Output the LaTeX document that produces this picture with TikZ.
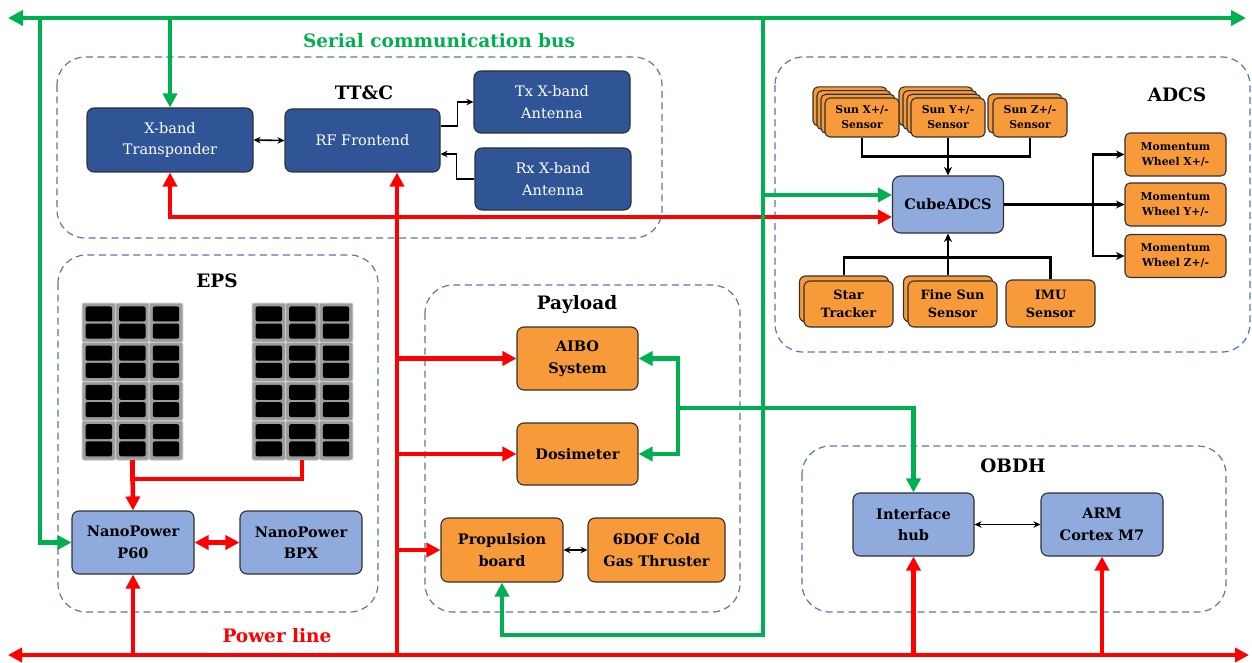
\documentclass[tikz,border=0pt]{standalone}
\usepackage{fontspec}
\setmainfont{DejaVu Serif}
\usetikzlibrary{arrows.meta,calc}
\definecolor{gbus}{HTML}{00B050}
\definecolor{rbus}{HTML}{FF0000}
\definecolor{dashc}{HTML}{5677AE}
\definecolor{dblue}{HTML}{2F5597}
\definecolor{lblue}{HTML}{8FAADC}
\definecolor{orng}{HTML}{F79B3A}
\definecolor{edgec}{HTML}{303030}
\definecolor{pgray}{HTML}{9C9C9C}
\definecolor{pedge}{HTML}{CACACA}
\tikzset{
 sz/.style 2 args={minimum width=#1, minimum height=#2},
 grp/.style={draw=dashc, dash pattern=on 7pt off 4.5pt, line width=1.2pt, rounded corners=28pt},
 bx/.style={draw=edgec, line width=1.1pt, rounded corners=7pt, align=center, inner sep=0pt},
 tbox/.style={bx, fill=dblue, text=white, font=\fontsize{14.5}{21.5}\selectfont},
 lbox/.style={bx, fill=lblue, font=\fontsize{14.5}{21.5}\selectfont\bfseries},
 obox/.style={bx, fill=orng, font=\fontsize{14.5}{21.5}\selectfont\bfseries},
 sbox/.style={bx, fill=orng, rounded corners=5pt, font=\fontsize{10.8}{15}\selectfont\bfseries},
 mbox/.style={bx, fill=orng, rounded corners=6pt, font=\fontsize{12.8}{18}\selectfont\bfseries},
 ttl/.style={font=\fontsize{18.5}{22}\selectfont\bfseries, inner sep=0pt},
 gline/.style={draw=gbus, line width=4.5pt},
 garrow/.style={gline, -{Triangle[length=14pt,width=14pt]}},
 rline/.style={draw=rbus, line width=4.5pt},
 rarrow/.style={rline, -{Triangle[length=14pt,width=14pt]}},
 rarrow2/.style={rline, {Triangle[length=14pt,width=14pt]}-{Triangle[length=14pt,width=14pt]}},
 bline/.style={draw=black, line width=1.6pt},
 barrow/.style={bline, -{Stealth[length=7pt,width=6.5pt]}},
 barrow2/.style={bline, {Stealth[length=7pt,width=6.5pt]}-{Stealth[length=7pt,width=6.5pt]}},
 aline/.style={draw=black, line width=2.2pt},
 aarrow/.style={aline, -{Stealth[length=8.5pt,width=8pt]}},
}
\begin{document}
\begin{tikzpicture}[x=1pt,y=-1pt]
\useasboundingbox (0,0) rectangle (1252,663);

% group frames
\draw[grp] (57,57) rectangle (662,238);
\draw[grp] (775,57) rectangle (1250,352);
\draw[grp] (58,255) rectangle (378,612);
\draw[grp] (425,285) rectangle (740,612);
\draw[grp] (802,446) rectangle (1226,612);

% titles
\node[ttl] (ttcT) at (364,93) {TT\&C};
\node[ttl] (adcsT) at (1177,95) {ADCS};
\node[ttl] (epsT) at (217,281) {EPS};
\node[ttl] (plT) at (577,305) {Payload};
\node[ttl] (obdhT) at (1013,466) {OBDH};
\node[ttl, text=gbus] (serT) at (439,41) {Serial communication bus};
\node[ttl, text=rbus] (pwrT) at (277,636) {Power line};

% solar panels
\foreach \px in {82,252} {
 \foreach \c in {0,1,2} {
  \foreach \r in {0,1,2,3} {
   \filldraw[fill=pgray, draw=pedge, line width=1pt, rounded corners=2pt] (\px+\c*33.6, 303+\r*39.25) rectangle ++(33.6,39.25);
   \fill[black, rounded corners=2pt] (\px+\c*33.6+3.6, 303+\r*39.25+3.4) rectangle ++(26.4,15);
   \fill[black, rounded corners=2pt] (\px+\c*33.6+3.6, 303+\r*39.25+20.6) rectangle ++(26.4,15);
  }
 }
}
\coordinate (lp) at (132.5,460);
\coordinate (rp) at (302,460);

% TT&C nodes
\node[tbox, sz={166pt}{64pt}] (xbt) at (170,140) {X-band\\Transponder};
\node[tbox, sz={155pt}{63pt}] (rff) at (362.5,140.5) {RF Frontend};
\node[tbox, sz={156pt}{62pt}] (tx) at (552,102) {Tx X-band\\Antenna};
\node[tbox, sz={156pt}{62pt}] (rx) at (553,179) {Rx X-band\\Antenna};

% EPS nodes
\node[lbox, sz={122pt}{63pt}] (p60) at (133,542.5) {NanoPower\\P60};
\node[lbox, sz={122pt}{63pt}] (bpx) at (301,542.5) {NanoPower\\BPX};

% Payload nodes
\node[obox, sz={121pt}{63pt}] (aibo) at (577.5,358.5) {AIBO\\System};
\node[obox, sz={121pt}{62pt}] (dosi) at (577.5,454) {Dosimeter};
\node[obox, sz={122pt}{64pt}] (prop) at (502,550) {Propulsion\\board};
\node[obox, sz={137pt}{64pt}] (cgt) at (656.5,550) {6DOF Cold\\Gas Thruster};

% OBDH nodes
\node[lbox, sz={121pt}{63pt}] (ihub) at (913.5,524.5) {Interface\\hub};
\node[lbox, sz={122pt}{63pt}] (arm) at (1102,524.5) {ARM\\Cortex M7};

% ADCS nodes
\foreach \k in {3,2,1} {
 \node[sbox, sz={74pt}{39pt}] (sunxb\k) at (862-4*\k,117.5-3.7*\k) {};
 \node[sbox, sz={74pt}{39pt}] (sunyb\k) at (948-4*\k,117.5-3.7*\k) {};
}
\node[sbox, sz={74pt}{39pt}] (sunx) at (862,117.5) {Sun X+/-\\Sensor};
\node[sbox, sz={74pt}{39pt}] (suny) at (948,117.5) {Sun Y+/-\\Sensor};
\node[sbox, sz={74pt}{39pt}] (sunzb) at (1025,113.5) {};
\node[sbox, sz={74pt}{39pt}] (sunz) at (1030,117.5) {Sun Z+/-\\Sensor};
\node[bx, fill=lblue, sz={111pt}{57pt}, rounded corners=8pt, font=\fontsize{14.5}{18}\selectfont\bfseries] (cube) at (948,204.5) {CubeADCS};
\node[sbox, sz={101pt}{43pt}] (wx) at (1175.5,154.5) {Momentum\\Wheel X+/-};
\node[sbox, sz={101pt}{43pt}] (wy) at (1175.5,204.5) {Momentum\\Wheel Y+/-};
\node[sbox, sz={101pt}{43pt}] (wz) at (1175.5,256) {Momentum\\Wheel Z+/-};
\node[mbox, sz={89pt}{46pt}] (starb) at (844,299) {};
\node[mbox, sz={89pt}{46pt}] (star) at (848.5,304) {Star\\Tracker};
\node[mbox, sz={89pt}{46pt}] (fsunb) at (948,299) {};
\node[mbox, sz={89pt}{46pt}] (fsun) at (952.5,304) {Fine Sun\\Sensor};
\node[mbox, sz={89pt}{47pt}] (imu) at (1050.5,303.5) {IMU\\Sensor};

% black connectors
\draw[barrow2] (xbt.east) -- (rff.west);
\draw[barrow] ([yshift=14.5pt]rff.east) -- ++(17,0) |- (tx.west);
\draw[barrow] (rx.west) -- ++(-18,0) |- ([yshift=-13.5pt]rff.east);
\draw[aline] (sunx.south) |- ($(suny.south)+(0,19)$) -| (sunz.south);
\draw[aarrow] (suny.south) -- (cube.north);
\draw[aline] (starb.north) |- ($(cube.south)+(0,24)$) -| (imu.north);
\draw[aarrow] (fsunb.north) -- (cube.south);
\coordinate (wj) at (1093,204.5);
\draw[aarrow] (cube.east) -- (wy.west);
\draw[aarrow] (wj) |- (wx.west);
\draw[aarrow] (wj) |- (wz.west);
\draw[barrow2] (prop.east) -- (cgt.west);
\draw[barrow2] (ihub.east) -- (arm.west);

% power lines
\coordinate (pL) at (8,655);
\coordinate (pR) at (1249,655);
\coordinate (r397) at (397,655);
\draw[rarrow] (r397) -- (r397 |- rff.south);
\draw[rarrow] (r397 |- aibo.west) -- (aibo.west);
\draw[rarrow] (r397 |- dosi.west) -- (dosi.west);
\draw[rarrow] (r397 |- prop.west) -- (prop.west);
\draw[rarrow2] ($(cube.west)+(0,12.5)$) -| (xbt.south);
\draw[rarrow] (pL -| p60.south) -- (p60.south);
\draw[rarrow] (lp) -- (p60.north);
\draw[rline] (rp) -- ++(0,19) -| (lp);
\draw[rarrow2] (p60.east) -- (bpx.west);
\draw[rarrow] (pL -| ihub.south) -- (ihub.south);
\draw[rarrow] (pL -| arm.south) -- (arm.south);
\draw[rarrow2] (pL) -- (pR);

% serial bus
\coordinate (gL) at (8,18);
\coordinate (gR) at (1246,18);
\coordinate (g40) at (40,18);
\coordinate (g763) at (763,18);
\coordinate (g763b) at (763,635);
\coordinate (gj) at (678,408);
\draw[garrow] (gL -| xbt.north) -- (xbt.north);
\draw[garrow] (g40) |- (p60.west);
\draw[garrow] (g763) -- (g763b) -| (prop.south);
\draw[garrow] ($(g763 |- cube.west)+(0,-9.5)$) -- ($(cube.west)+(0,-9.5)$);
\draw[garrow] (gj) |- (aibo.east);
\draw[garrow] (gj) |- (dosi.east);
\draw[garrow] (gj) -| (ihub.north);
\draw[gline, {Triangle[length=15pt,width=15pt]}-{Triangle[length=15pt,width=15pt]}] (gL) -- (gR);
\end{tikzpicture}
\end{document}
